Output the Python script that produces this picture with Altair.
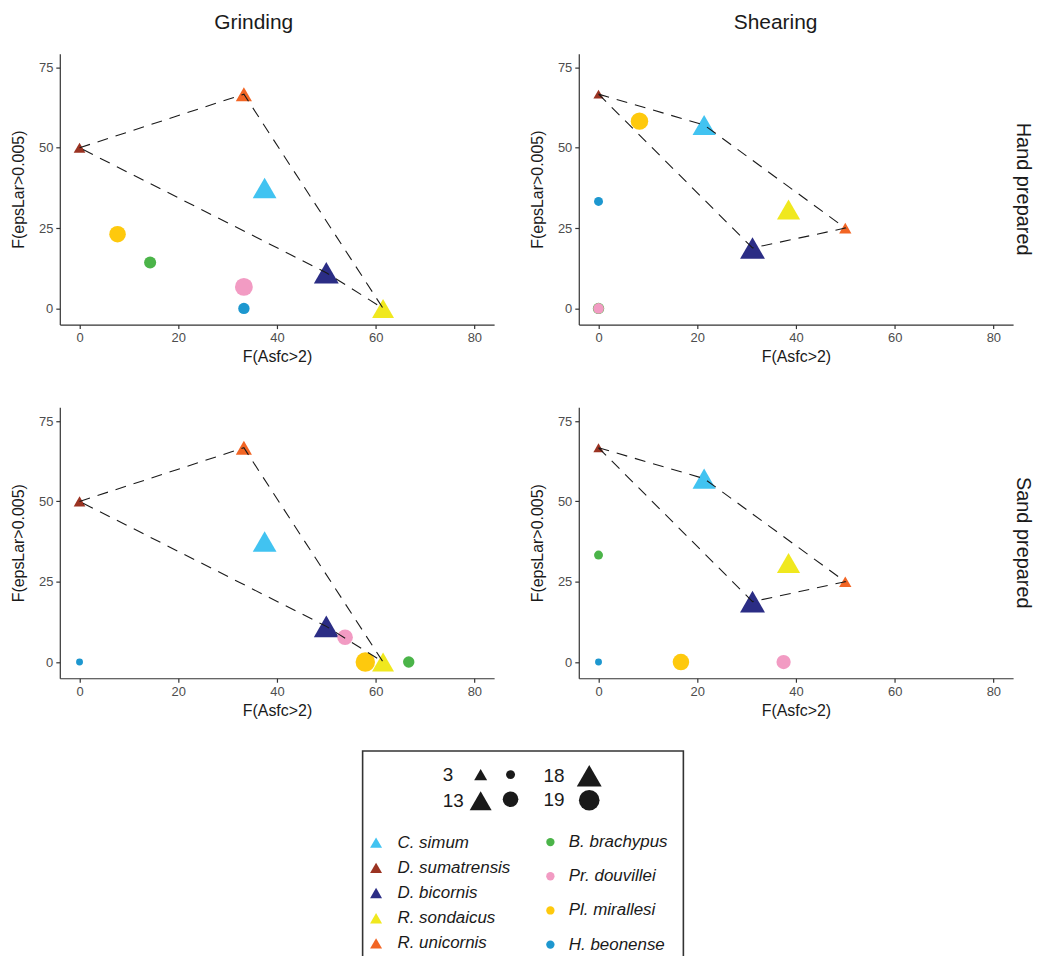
import altair as alt
import pandas as pd

FONT = "Liberation Sans"

# ---- categories ----
actions = ["Grinding", "Shearing"]
preps = ["Hand prepared", "Sand prepared"]

tri_taxa = ["C. simum", "D. sumatrensis", "D. bicornis", "R. sondaicus", "R. unicornis"]
tri_colors = ["#41C3F1", "#9B3322", "#2B2D85", "#F0E81E", "#F26524"]
circ_taxa = ["B. brachypus", "Pr. douvillei", "Pl. mirallesi", "H. beonense"]
circ_colors = ["#4BB449", "#F29BC3", "#FEC90D", "#1D97CF"]

# ---- triangles (extant species, same in both preparations) ----
tri_grind_x = [37.5, 0.0, 50.0, 61.5, 33.3]
tri_grind_y = [37.5, 50.0, 11.1, 0.0, 66.7]
tri_grind_n = [16, 2, 18, 13, 6]
tri_shear_x = [21.4, 0.0, 31.2, 38.5, 50.0]
tri_shear_y = [57.1, 66.7, 18.8, 30.8, 25.0]
tri_shear_n = [15, 1, 18, 15, 2.5]

# hull path order (indices into tri_taxa)
hull_grind = [1, 4, 3, 2, 1]
hull_shear = [1, 0, 4, 2, 1]

# ---- circles (fossil species) per panel, order as circ_taxa ----
circ_grind_hand_x = [14.3, 33.3, 7.7, 33.3]
circ_grind_hand_y = [14.3, 6.7, 23.1, 0.0]
circ_grind_hand_n = [7, 15.5, 14, 6]
circ_grind_sand_x = [66.7, 53.8, 57.9, 0.0]
circ_grind_sand_y = [0.0, 7.7, 0.0, 0.0]
circ_grind_sand_n = [6, 13, 17.5, 1]
circ_shear_hand_x = [0.0, 0.0, 8.3, 0.0]
circ_shear_hand_y = [0.0, 0.0, 58.3, 33.3]
circ_shear_hand_n = [6, 5, 15, 3]
circ_shear_sand_x = [0.0, 37.5, 16.7, 0.0]
circ_shear_sand_y = [33.3, 0.0, 0.0, 0.0]
circ_shear_sand_n = [3, 10.5, 14, 1]

x_ticks = [0, 20, 40, 60, 80]
y_ticks = [0, 25, 50, 75]

# marker area anchors (n -> px^2) for the two symbol types
tri_area_n, tri_area_px = [3, 13, 18], [169, 484, 625]
circ_area_n, circ_area_px = [3, 13, 19], [81, 246, 428]


def piecewise(v, xs, ys):
    i = 0 if v <= xs[1] else 1
    return ys[i] + (v - xs[i]) * (ys[i + 1] - ys[i]) / (xs[i + 1] - xs[i])


def key(kind, n):
    return ("t" if kind == "tri" else "c") + format(n, "g")


rows = []


def add_tri(action, xs, ys, ns):
    for prep in preps:
        for t, x, y, n in zip(tri_taxa, xs, ys, ns):
            rows.append(dict(action=action, prep=prep, kind="tri", taxon=t, x=x, y=y, n=n,
                             key=key("tri", n), ord=0))


def add_hull(action, xs, ys, order):
    for prep in preps:
        for k, i in enumerate(order):
            rows.append(dict(action=action, prep=prep, kind="hull", taxon=tri_taxa[i],
                             x=xs[i], y=ys[i], n=0, key="", ord=k))


def add_circ(action, prep, xs, ys, ns):
    for t, x, y, n in zip(circ_taxa, xs, ys, ns):
        rows.append(dict(action=action, prep=prep, kind="circ", taxon=t, x=x, y=y, n=n,
                         key=key("circ", n), ord=0))


add_tri("Grinding", tri_grind_x, tri_grind_y, tri_grind_n)
add_tri("Shearing", tri_shear_x, tri_shear_y, tri_shear_n)
add_circ("Grinding", "Hand prepared", circ_grind_hand_x, circ_grind_hand_y, circ_grind_hand_n)
add_circ("Grinding", "Sand prepared", circ_grind_sand_x, circ_grind_sand_y, circ_grind_sand_n)
add_circ("Shearing", "Hand prepared", circ_shear_hand_x, circ_shear_hand_y, circ_shear_hand_n)
add_circ("Shearing", "Sand prepared", circ_shear_sand_x, circ_shear_sand_y, circ_shear_sand_n)
add_hull("Grinding", tri_grind_x, tri_grind_y, hull_grind)
add_hull("Shearing", tri_shear_x, tri_shear_y, hull_shear)

df = pd.DataFrame(rows)

# size legend entries (column-major: 3 columns x 2 rows)
legend_keys = ["t3", "t13", "c3", "c13", "t18", "c19"]
all_keys = []
for kk in legend_keys + list(df.loc[df.kind != "hull", "key"]):
    if kk not in all_keys:
        all_keys.append(kk)
key_sizes = []
key_shapes = []
for kk in all_keys:
    v = float(kk[1:])
    if kk[0] == "t":
        key_sizes.append(round(piecewise(v, tri_area_n, tri_area_px), 1))
        key_shapes.append("triangle-up")
    else:
        key_sizes.append(round(piecewise(v, circ_area_n, circ_area_px), 1))
        key_shapes.append("circle")

x_enc = alt.X("x:Q", scale=alt.Scale(domain=[-4, 84], nice=False, zero=False),
              axis=alt.Axis(values=x_ticks, title="F(Asfc>2)"))
y_enc = alt.Y("y:Q", scale=alt.Scale(domain=[-5.05, 79.3], nice=False, zero=False),
              axis=alt.Axis(values=y_ticks, title="F(epsLar>0.005)"))

is_c = "(datum.value == 'c3' || datum.value == 'c13')"
is_last = "(datum.value == 't18' || datum.value == 'c19')"
size_legend = alt.Legend(
    orient="none", legendX=410, legendY=712, title=None,
    values=legend_keys, columns=3, columnPadding=6, rowPadding=3,
    labelExpr=is_c + " ? '' : slice(datum.value, 1)",
    labelOffset={"expr": is_c + " ? 13.5 : (" + is_last + " ? -58.5 : -50.5)"},
    labelAlign="left", labelFontSize=19, labelColor="#1a1a1a", labelFont=FONT,
    symbolFillColor="#1a1a1a", symbolStrokeColor="#1a1a1a", symbolStrokeWidth=0, padding=0)

size_enc = alt.Size("key:N", scale=alt.Scale(type="ordinal", domain=all_keys, range=key_sizes),
                    legend=size_legend)
shape_enc = alt.Shape("key:N", scale=alt.Scale(domain=all_keys, range=key_shapes), legend=size_legend)

# blank title lines stretch the framed legend box up and across the size keys
box_title = ["\u200b", "\u200b", "\u200b", "\u200b" + "\u00a0" * 59 + "\u200b"]

tri = alt.Chart().mark_point(filled=True, opacity=1, color="#1a1a1a").encode(
    x=x_enc, y=y_enc, size=size_enc, shape=shape_enc,
    color=alt.Color("taxon:N", scale=alt.Scale(domain=tri_taxa, range=tri_colors),
                    legend=alt.Legend(
                        orient="none", legendX=304, legendY=700,
                        title=box_title, titleFontSize=19, titleLineHeight=19, titleLimit=800,
                        titlePadding=2.5,
                        strokeColor="#333333", padding=5,
                        labelFont=FONT, labelFontSize=17, labelFontStyle="italic", labelColor="#1a1a1a",
                        labelOffset=13, symbolSize=144, symbolType="triangle-up", rowPadding=7.3,
                        symbolStrokeWidth=0)),
).transform_filter(alt.datum.kind == "tri")

circ = alt.Chart().mark_point(filled=True, opacity=1, color="#1a1a1a").encode(
    x=x_enc, y=y_enc, size=size_enc, shape=shape_enc,
    fill=alt.Fill("taxon:N", scale=alt.Scale(domain=circ_taxa, range=circ_colors),
                  legend=alt.Legend(
                      orient="none", legendX=484, legendY=783, title=None, padding=0,
                      labelFont=FONT, labelFontSize=17, labelFontStyle="italic", labelColor="#1a1a1a",
                      labelOffset=10, symbolSize=70, symbolType="circle", rowPadding=16.3,
                      symbolStrokeWidth=0)),
).transform_filter(alt.datum.kind == "circ")

hull = alt.Chart().mark_line(color="#1a1a1a", strokeWidth=1.1, strokeDash=[11, 8]).encode(
    x=x_enc, y=y_enc, order="ord:Q"
).transform_filter(alt.datum.kind == "hull")

layered = alt.layer(tri, circ, hull).properties(width=436, height=272)

pad8 = "\u00a0" * 8 + "\u200b"
pad7 = "\u00a0" * 7 + "\u200b"
col_label_expr = "datum.value + (datum.value == 'Grinding' ? '" + pad8 + "' : '" + pad7 + "')"

chart = layered.facet(
    data=df,
    row=alt.Row("prep:N", sort=preps,
                header=alt.Header(title=None, labelOrient="right", labelAngle=90, labelFontSize=20,
                                  labelFont=FONT, labelColor="#1a1a1a", labelPadding=0)),
    column=alt.Column("action:N", sort=actions,
                      header=alt.Header(title=None, labelFontSize=21, labelFont=FONT,
                                        labelColor="#1a1a1a", labelPadding=21,
                                        labelExpr=col_label_expr)),
    spacing={"row": 43, "column": 35},
).resolve_axis(x="independent", y="independent").properties(
    padding={"left": 2, "top": 2, "right": 3, "bottom": 0}
).configure_view(stroke=None).configure_axis(
    domainColor="#333333", domainWidth=1.2, tickColor="#333333", tickWidth=1.2, tickSize=4,
    labelColor="#4d4d4d", labelFontSize=13, labelFont=FONT, labelPadding=3,
    titleFont=FONT, titleFontSize=16, titleColor="#1a1a1a", titleFontWeight="normal", grid=False
).configure_axisX(titlePadding=4).configure_axisY(titlePadding=12).configure_legend(strokeWidth=1.6)

chart.save("out.html", embed_options={"renderer": "svg", "actions": False})
